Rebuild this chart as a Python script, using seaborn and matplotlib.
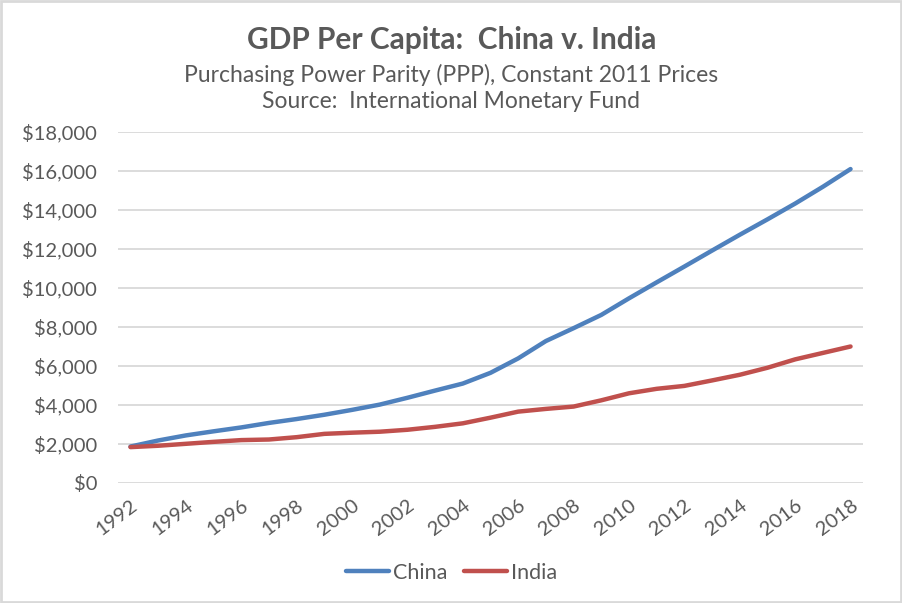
import pandas as pd
import seaborn as sns
import matplotlib.pyplot as plt
from matplotlib.ticker import FuncFormatter
from matplotlib.patches import Rectangle

years = list(range(1992, 2019))
china = [1870, 2180, 2440, 2650, 2850, 3080, 3280, 3500, 3750, 4020,
         4370, 4740, 5100, 5650, 6390, 7280, 7940, 8620, 9470, 10290,
         11100, 11920, 12730, 13520, 14330, 15190, 16100]
india = [1840, 1910, 2010, 2110, 2200, 2230, 2350, 2520, 2580, 2630,
         2730, 2880, 3060, 3350, 3660, 3800, 3920, 4240, 4600, 4830,
         4980, 5260, 5550, 5910, 6340, 6670, 7000]

df = pd.DataFrame({"Year": years * 2,
                   "GDP": china + india,
                   "Country": ["China"] * len(years) + ["India"] * len(years)})

sns.set_style("white")
plt.rcParams['font.family'] = ['Lato', 'DejaVu Sans']

fig = plt.figure(figsize=(9.03, 6.03), dpi=100)
ax = fig.add_axes([118 / 903, 1 - 483 / 603, (863 - 118) / 903, (483 - 132) / 603])

sns.lineplot(data=df, x="Year", y="GDP", hue="Country",
             palette={"China": "#4F81BD", "India": "#C0504D"},
             linewidth=3.2, ax=ax, legend=False)

ax.set_xlim(1991.55, 2018.45)
ax.set_ylim(0, 18000)
ax.set_yticks(range(0, 18001, 2000))
ax.yaxis.set_major_formatter(FuncFormatter(lambda v, p: f"${v:,.0f}"))
ax.set_xticks(range(1992, 2019, 2))
ax.grid(axis="y", color="#d9d9d9", linewidth=1.3)
ax.set_axisbelow(True)
for s in ax.spines.values():
    s.set_visible(False)
ax.tick_params(axis="both", length=0, colors="#595959", labelsize=14.5)
ax.tick_params(axis="y", pad=15)
ax.tick_params(axis="x", pad=10)
for lbl in ax.get_xticklabels():
    lbl.set_rotation(37)
    lbl.set_ha("right")
    lbl.set_rotation_mode("anchor")
ax.set_xlabel("")
ax.set_ylabel("")

fig.text(0.5, 1 - 40 / 603, "GDP Per Capita:  China v. India", ha="center", va="center",
         fontsize=21.5, fontweight="bold", color="#595959")
fig.text(0.5, 1 - 75 / 603, "Purchasing Power Parity (PPP), Constant 2011 Prices",
         ha="center", va="center", fontsize=16.5, color="#595959")
fig.text(0.5, 1 - 102 / 603, "Source:  International Monetary Fund",
         ha="center", va="center", fontsize=16.5, color="#595959")

handles = [plt.Line2D([], [], color="#4F81BD", linewidth=3.2),
           plt.Line2D([], [], color="#C0504D", linewidth=3.2)]
fig.legend(handles, ["China", "India"], loc="center", bbox_to_anchor=(0.5, 1 - 573 / 603),
           ncol=2, frameon=False, fontsize=15.5, labelcolor="#595959",
           handlelength=2.0, handletextpad=0.15, columnspacing=0.8)

fig.patches.append(Rectangle((0.001, 0.001), 0.997, 0.997, transform=fig.transFigure,
                             fill=False, edgecolor="#d9d9d9", linewidth=2))

fig.savefig("out.png", dpi=100)
